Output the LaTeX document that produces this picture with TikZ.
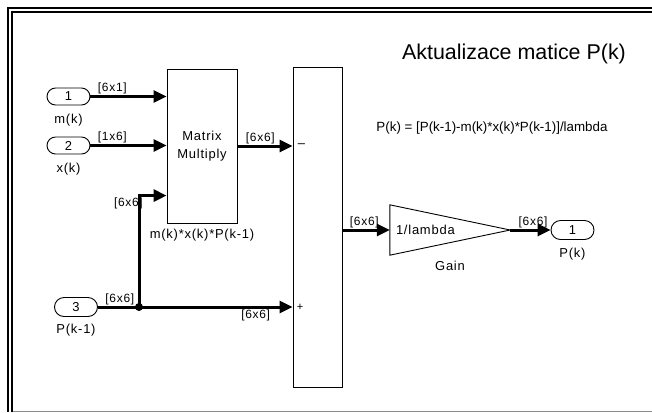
\documentclass[tikz,border=0pt]{standalone}
\usepackage{fontspec}
\setmainfont{Liberation Sans}
\newfontfamily\slfont[LetterSpace=6]{Liberation Sans}
\usetikzlibrary{arrows.meta,positioning,calc}

\begin{document}
\begin{tikzpicture}[
  x=1bp, y=-1bp,
  font=\slfont\fontsize{13}{15}\selectfont,
  blk/.style  = {draw=black, line width=0.9bp, inner sep=0pt, align=center},
  port/.style = {blk, rounded corners=8.5bp, minimum width=43bp,
                 minimum height=17bp},
  portb/.style= {port, rounded corners=9.5bp, minimum height=19bp},
  sig/.style  = {-{Triangle[length=13bp,width=12bp]}, line width=3bp},
  lbl/.style  = {inner sep=1bp, font=\slfont\fontsize{12}{14}\selectfont},
  blab/.style = {inner sep=1bp},
  sgn/.style  = {inner sep=0pt, anchor=west},
  frm/.style  = {line width=2bp}
]
\useasboundingbox (0,0) rectangle (652,412);

%%%%%%%%%%%%%%%%%%%%%%% FRAME %%%%%%%%%%%%%%%%%%%%%%%%%%%%%%%%%%%%%%%%%%%%%%%%
\draw[frm] (8,412) -- (8,8) -- (652,8);
\draw[frm] (12,412) -- (12,12) -- (652,12);
\draw[black!45, line width=1bp] (13,411) -- (652,411);

%%%%%%%%%%%%%%%%%%%%%%% BLOCKS %%%%%%%%%%%%%%%%%%%%%%%%%%%%%%%%%%%%%%%%%%%%%%%
\node[port]  (in1) at (68.5,96.5) {1};
\node[port]  (in2) at (68.5,145.5) {2};
\node[portb] (in3) at (76,307) {3};
\node[blab, below=7bp of in1] (in1lab) {m(k)};
\node[blab, below=7bp of in2] (in2lab) {x(k)};
\node[blab, below=6bp of in3] (in3lab) {P(k-1)};

\node[blk, minimum width=70bp, minimum height=154bp,
      font=\slfont\fontsize{13}{18}\selectfont] (mm) at (202,146)
      {Matrix\\Multiply};
\node[blab, below=4bp of mm] (mmlab) {m(k)*x(k)*P(k-1)};

\node[blk, minimum width=49bp, minimum height=320bp] (sum) at (317.5,227) {};
\node[sgn, xshift=5bp] (minus) at (sum.west |- mm.east)
      {\raisebox{1bp}{\symbol{"2013}}};
\node[sgn, xshift=4bp] (plus)  at (sum.west |- in3.east)
      {\fontsize{11}{12}\selectfont +};

\node[inner sep=0pt, minimum width=120bp, minimum height=50bp] (gain)
      at (450,230) {};
\draw[line width=0.9bp] (gain.north west) -- (gain.east) -- (gain.south west)
      -- cycle;
\node[inner sep=1bp, anchor=west, xshift=5bp] (gaintxt) at (gain.west) {1/lambda};
\node[blab, below=5bp of gain] (gainlab) {Gain};

\node[portb] (out1) at (572.5,230) {1};
\node[blab, below=7bp of out1] (out1lab) {P(k)};

\node[font=\fontsize{21.5}{26}\selectfont] (title) at (514,54)
      {Aktualizace matice P(k)};
\node[font=\fontsize{13.4}{15}\selectfont] (formula) at (492,128)
      {P(k) = [P(k-1)-m(k)*x(k)*P(k-1)]/lambda};

%%%%%%%%%%%%%%%%%%%%%%% SIGNALS %%%%%%%%%%%%%%%%%%%%%%%%%%%%%%%%%%%%%%%%%%%%%%
\node[circle, fill=black, inner sep=0pt, minimum size=8bp] (jn) at (139,307) {};
\coordinate (mmp3) at ($(mm.north west)!0.82!(mm.south west)$);
\coordinate (bend) at (jn |- mmp3);
\node[lbl, anchor=north east, xshift=5bp, yshift=-1bp] (lb3) at (bend) {[6x6]};

\draw[sig] (in1.east) -- node[lbl, pos=0, anchor=south west, xshift=5bp]
      {[6x1]} (mm.west |- in1.east);
\draw[sig] (in2.east) -- node[lbl, pos=0, anchor=south west, xshift=5bp]
      {[1x6]} (mm.west |- in2.east);
\draw[sig] (in3.east) -- node[lbl, pos=0, anchor=south west, xshift=5bp]
      {[6x6]} (jn.center) -- node[lbl, pos=1, anchor=north east, xshift=-20bp]
      {[6x6]} (sum.west |- in3.east);
\draw[sig] (jn.center) -- (bend) -- (mmp3);
\draw[sig] (mm.east) -- node[lbl, pos=0, anchor=south west, xshift=6bp]
      {[6x6]} (sum.west |- mm.east);
\draw[sig] (sum.east |- gain.west) -- node[lbl, pos=0, anchor=south west,
      xshift=5bp] {[6x6]} (gain.west);
\draw[sig] (gain.east) -- node[lbl, pos=0, anchor=south west, xshift=6bp]
      {[6x6]} (out1.west);

\end{tikzpicture}
\end{document}
